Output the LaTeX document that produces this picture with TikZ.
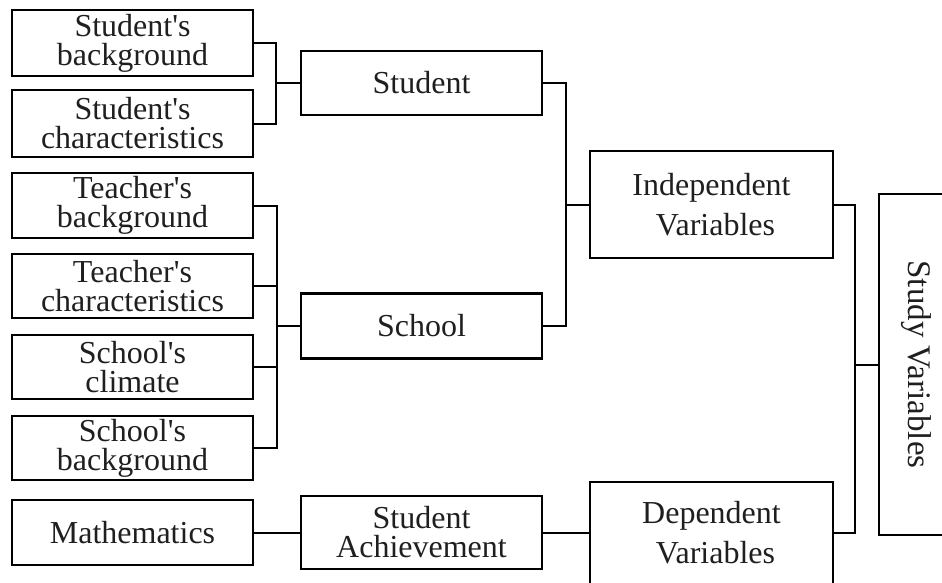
\documentclass[tikz,border=0pt]{standalone}
\usepackage{fontspec}
\setmainfont{Liberation Serif}[Ligatures=TeXOff]
\begin{document}
\begin{tikzpicture}[x=1pt,y=-1pt,
  box/.style={draw=black, line width=2.4pt, align=center, inner sep=0pt,
    font=\fontsize{32}{29}\selectfont, text=black!88},
  lbox/.style={box, minimum width=241pt},
  rbox/.style={box, minimum width=243pt, font=\fontsize{32}{40}\selectfont},
  conn/.style={draw=black, line width=2pt}
]
\useasboundingbox (0,0) rectangle (942,582);
% left column
\node[lbox, minimum height=66pt] (sb) at (132.5,43) {Student's\\background};
\node[lbox, minimum height=67pt] (sc) at (132.5,123.5) {Student's\\characteristics};
\node[lbox, minimum height=65pt] (tb) at (132.5,205.5) {Teacher's\\background};
\node[lbox, minimum height=64pt] (tc) at (132.5,286) {Teacher's\\characteristics};
\node[lbox, minimum height=64pt] (scl) at (132.5,367) {School's\\climate};
\node[lbox, minimum height=64pt] (sbk) at (132.5,448) {School's\\background};
\node[lbox, minimum height=65pt] (math) at (132.5,532.5) {Mathematics};
% middle column
\node[lbox, minimum height=64pt] (stu) at (421.5,83) {Student};
\node[lbox, minimum height=65pt] (sch) at (421.5,326) {School};
\node[lbox, minimum height=73pt] (ach) at (421.5,532.5) {Student\\Achievement};
% right column
\node[rbox, minimum height=107pt] (ind) at (711.5,204.5) {Independent\\ \ Variables};
\node[rbox, minimum height=102pt] (dep) at (711.5,533) {Dependent\\ \ Variables};
% study variables
\node[box, minimum width=67pt, minimum height=341pt, font=\fontsize{33}{33}\selectfont] (stv) at (912.5,364.5) {\hspace*{8pt}\rotatebox{-90}{Study Variables}};
% junctions
\coordinate (j1) at (276,83);
\coordinate (j2) at (277,326);
\coordinate (j3) at (566,204.5);
\coordinate (j4) at (855,364.5);
% connectors
\draw[conn] (sb.east) -| (j1);
\draw[conn] (sc.east) -| (j1);
\draw[conn] (j1) -- (stu.west);
\draw[conn] (tb.east) -| (j2);
\draw[conn] (tc.east) -| (j2);
\draw[conn] (scl.east) -| (j2);
\draw[conn] (sbk.east) -| (j2);
\draw[conn] (j2) -- (sch.west);
\draw[conn] (stu.east) -| (j3);
\draw[conn] (sch.east) -| (j3);
\draw[conn] (j3) -- (ind.west);
\draw[conn] (ind.east) -| (j4);
\draw[conn] (dep.east) -| (j4);
\draw[conn] (j4) -- (stv.west);
\draw[conn] (math.east) -- (ach.west);
\draw[conn] (ach.east) -- (ach.east -| dep.west);
\end{tikzpicture}
\end{document}
